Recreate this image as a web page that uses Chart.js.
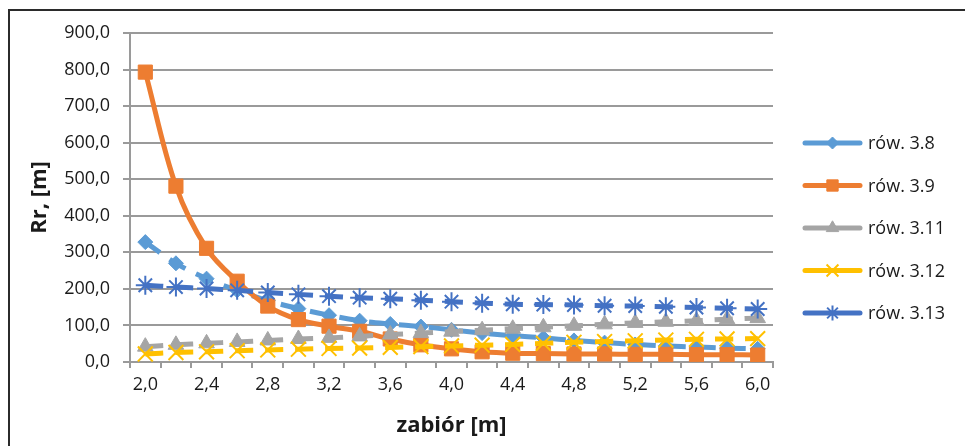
<!DOCTYPE html>
<html>
<head>
<meta charset="utf-8">
<script src="https://cdn.jsdelivr.net/npm/chart.js@4.4.0/dist/chart.umd.min.js"></script>
<style>
  html, body { margin: 0; padding: 0; background: #fff; }
  #wrap { width: 965px; height: 446px; position: relative; }
</style>
</head>
<body>
<div id="wrap"><canvas id="chart" width="965" height="446"></canvas></div>
<script>
// zabiór [m] - categories along the x axis
const zabior = ["2,0", "2,2", "2,4", "2,6", "2,8", "3,0", "3,2", "3,4", "3,6", "3,8", "4,0",
                "4,2", "4,4", "4,6", "4,8", "5,0", "5,2", "5,4", "5,6", "5,8", "6,0"];

// Rr [m], one array per equation
const row38  = [328, 270, 228, 196, 168, 146, 128, 113, 104, 97, 88, 79, 72, 66, 59, 53, 48, 44, 41, 38, 36];
const row39  = [793, 481, 311, 221, 153, 116, 98, 84, 63, 47, 36, 28, 24, 23, 22, 22, 21, 21, 20, 20, 19];
const row311 = [42, 47, 51, 55, 59, 63, 66, 70, 75, 79, 83, 87, 91, 95, 99, 103, 107, 110, 113, 117, 120];
const row312 = [22, 26, 28, 31, 33, 35, 37, 38, 40, 42, 44, 46, 48, 51, 54, 56, 58, 60, 62, 63, 64];
const row313 = [210, 205, 201, 196, 190, 185, 180, 176, 173, 169, 165, 161, 158, 157, 156, 154, 153, 151, 149, 147, 145];

const seriesNames = ["rów. 3.8", "rów. 3.9", "rów. 3.11", "rów. 3.12", "rów. 3.13"];

const yTicksMax = 900;
const yTicksStep = 100;

const FONT = "'Open Sans', 'Noto Sans', sans-serif";
const TEXT = "#1a1a1a";
const GRID = "#9a9a9a";

function series(label, data, color, style, radius, dashed, order, extra) {
    return Object.assign({
        label: label,
        data: data,
        borderColor: color,
        backgroundColor: color,
        borderWidth: 5,
        borderDash: dashed ? [18, 12] : [],
        tension: 0.35,
        pointStyle: style,
        pointRadius: radius,
        pointBorderWidth: 1,
        pointBackgroundColor: color,
        pointBorderColor: color,
        order: order,
        fill: false,
    }, extra || {});
}

const datasets = [
    series(seriesNames[0], row38, "#5B9BD5", "rectRot", 7.5, true, 5),
    series(seriesNames[1], row39, "#ED7D31", "rect", 10, false, 4),
    series(seriesNames[2], row311, "#A5A5A5", "triangle", 9, true, 3),
    series(seriesNames[3], row312, "#FFC000", "crossRot", 10.5, true, 2, { pointBorderWidth: 2 }),
    series(seriesNames[4], row313, "#4472C4", "star", 9.5, true, 1, { pointBorderWidth: 2 }),
];

// outer frame: only top and left edges are inside the picture
const framePlugin = {
    id: "frame",
    beforeDraw(chart) {
        const ctx = chart.ctx;
        ctx.save();
        ctx.strokeStyle = "#2b2b2b";
        ctx.lineWidth = 2;
        ctx.beginPath();
        ctx.moveTo(9, chart.height + 5);
        ctx.lineTo(9, 10);
        ctx.lineTo(chart.width + 5, 10);
        ctx.stroke();
        ctx.restore();
    },
};

// legend drawn as line + marker like the spreadsheet one
const legendPlugin = {
    id: "sideLegend",
    afterDraw(chart) {
        const ctx = chart.ctx;
        const x0 = 805, x1 = 860, tx = 868, y0 = 143, step = 42.5;
        ctx.save();
        chart.data.datasets.forEach((ds, i) => {
            const y = y0 + i * step;
            ctx.strokeStyle = ds.borderColor;
            ctx.fillStyle = ds.borderColor;
            ctx.lineWidth = 5;
            ctx.lineCap = "round";
            ctx.setLineDash([]);
            ctx.beginPath();
            ctx.moveTo(x0, y);
            ctx.lineTo(x1, y);
            ctx.stroke();
            ctx.lineCap = "butt";
            ctx.lineWidth = ds.pointBorderWidth;
            Chart.helpers.drawPoint(ctx, {
                pointStyle: ds.pointStyle,
                radius: ds.pointRadius * 0.8,
                rotation: 0,
                borderWidth: ds.pointBorderWidth,
            }, (x0 + x1) / 2, y);
            ctx.fillStyle = TEXT;
            ctx.font = "18px " + FONT;
            ctx.textAlign = "left";
            ctx.textBaseline = "middle";
            ctx.fillText(ds.label, tx, y + 1);
        });
        ctx.restore();
    },
};

new Chart(document.getElementById("chart"), {
    type: "line",
    data: { labels: zabior, datasets: datasets },
    plugins: [framePlugin, legendPlugin],
    options: {
        responsive: false,
        animation: false,
        layout: { padding: { top: 33, right: 192, bottom: 0, left: 0 } },
        plugins: {
            legend: { display: false },
            tooltip: { enabled: false },
        },
        scales: {
            x: {
                type: "category",
                offset: true,
                afterFit(scale) { scale.height = 84; },
                grid: {
                    offset: true,
                    drawOnChartArea: false,
                    drawTicks: true,
                    tickLength: 6,
                    color: GRID,
                    lineWidth: 2,
                },
                border: { display: true, color: GRID, width: 2 },
                ticks: {
                    autoSkip: false,
                    maxRotation: 0,
                    padding: 6,
                    color: TEXT,
                    font: { family: FONT, size: 18 },
                    callback: (v, i) => (i % 2 === 0 ? zabior[i] : ""),
                },
                title: {
                    display: true,
                    text: "zabiór [m]",
                    color: TEXT,
                    font: { family: FONT, size: 22, weight: "bold" },
                    padding: { top: 0, bottom: 7 },
                },
            },
            y: {
                min: 0,
                max: yTicksMax,
                afterFit(scale) { scale.width = 130; },
                grid: {
                    drawTicks: true,
                    tickLength: 7,
                    color: GRID,
                    lineWidth: 2,
                },
                border: { display: true, color: GRID, width: 2 },
                ticks: {
                    stepSize: yTicksStep,
                    padding: 13,
                    color: TEXT,
                    font: { family: FONT, size: 18 },
                    callback: v => v.toFixed(1).replace(".", ","),
                },
                title: {
                    display: true,
                    text: "Rr, [m]",
                    color: TEXT,
                    font: { family: FONT, size: 22, weight: "bold" },
                    padding: { top: 27, bottom: 0 },
                },
            },
        },
    },
});
</script>
</body>
</html>
